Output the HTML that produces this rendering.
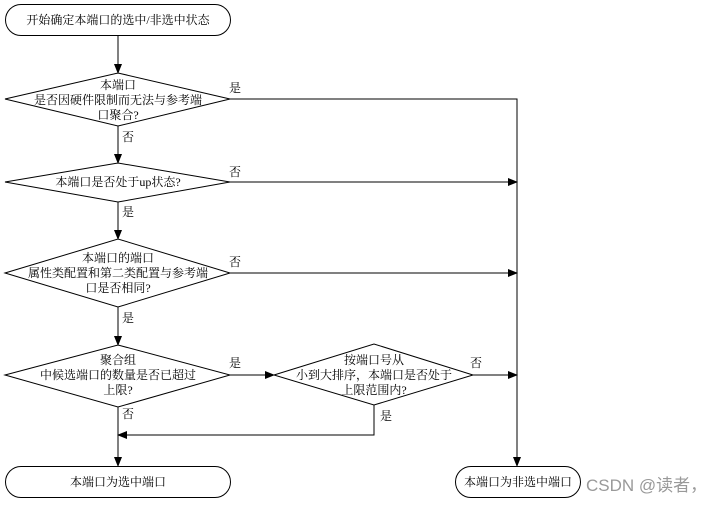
<!DOCTYPE html>
<html><head><meta charset="utf-8"><style>
html,body{margin:0;padding:0;background:#fff;}
svg text{font-family:"Liberation Serif","Noto Serif CJK SC",serif;font-size:12px;fill:#000;}
</style></head><body>
<svg width="726" height="503" viewBox="0 0 726 503" xmlns="http://www.w3.org/2000/svg">
<defs><marker id="a" markerWidth="10" markerHeight="8" refX="9" refY="4" orient="auto" markerUnits="userSpaceOnUse"><path d="M0,0 L10,4 L0,8 Z" fill="#000"/></marker></defs>
<g fill="none" stroke="#000" stroke-width="1">
<rect x="5.5" y="4.5" width="225" height="31" rx="15.5"/>
<polygon points="5,99 118,73 230,99 118,126"/>
<polygon points="5,182 118,163 230,182 118,202"/>
<polygon points="5,273 118,239 230,273 118,307"/>
<polygon points="5,375 118,345 230,375 118,407"/>
<polygon points="274,375 374,344 473,375 374,405"/>
<rect x="5.5" y="466.5" width="225" height="31" rx="15.5"/>
<rect x="455.5" y="466.5" width="125" height="31" rx="15.5"/>
<line x1="118" y1="36" x2="118" y2="73" marker-end="url(#a)"/>
<line x1="118" y1="126" x2="118" y2="163" marker-end="url(#a)"/>
<line x1="118" y1="202" x2="118" y2="239" marker-end="url(#a)"/>
<line x1="118" y1="307" x2="118" y2="345" marker-end="url(#a)"/>
<line x1="118" y1="407" x2="118" y2="466" marker-end="url(#a)"/>
<polyline points="230,99 517,99 517,466" marker-end="url(#a)"/>
<line x1="230" y1="182" x2="517" y2="182" marker-end="url(#a)"/>
<line x1="230" y1="273" x2="517" y2="273" marker-end="url(#a)"/>
<line x1="230" y1="375" x2="274" y2="375" marker-end="url(#a)"/>
<line x1="473" y1="375" x2="517" y2="375" marker-end="url(#a)"/>
<polyline points="374,405 374,435 118,435" marker-end="url(#a)"/>
</g>
<text x="118" y="24" text-anchor="middle">开始确定本端口的选中/非选中状态</text>
<text x="118" y="89" text-anchor="middle">本端口</text>
<text x="118" y="104" text-anchor="middle">是否因硬件限制而无法与参考端</text>
<text x="118" y="119" text-anchor="middle">口聚合?</text>
<text x="118" y="186" text-anchor="middle">本端口是否处于up状态?</text>
<text x="118" y="262" text-anchor="middle">本端口的端口</text>
<text x="118" y="277" text-anchor="middle">属性类配置和第二类配置与参考端</text>
<text x="118" y="292" text-anchor="middle">口是否相同?</text>
<text x="118" y="364" text-anchor="middle">聚合组</text>
<text x="118" y="379" text-anchor="middle">中候选端口的数量是否已超过</text>
<text x="118" y="394" text-anchor="middle">上限?</text>
<text x="374" y="364" text-anchor="middle">按端口号从</text>
<text x="374" y="379" text-anchor="middle">小到大排序，本端口是否处于</text>
<text x="374" y="394" text-anchor="middle">上限范围内?</text>
<text x="118" y="486" text-anchor="middle">本端口为选中端口</text>
<text x="518" y="486" text-anchor="middle">本端口为非选中端口</text>
<text x="229" y="92">是</text>
<text x="122" y="141">否</text>
<text x="229" y="176">否</text>
<text x="122" y="216">是</text>
<text x="229" y="266">否</text>
<text x="122" y="322">是</text>
<text x="229" y="367">是</text>
<text x="470" y="367">否</text>
<text x="122" y="418">否</text>
<text x="380" y="420">是</text>
<text x="586" y="491" style="font-family:'Liberation Sans','Noto Sans CJK SC',sans-serif;font-size:17px;fill:#999;">CSDN @读者，</text>
</svg>
</body></html>
